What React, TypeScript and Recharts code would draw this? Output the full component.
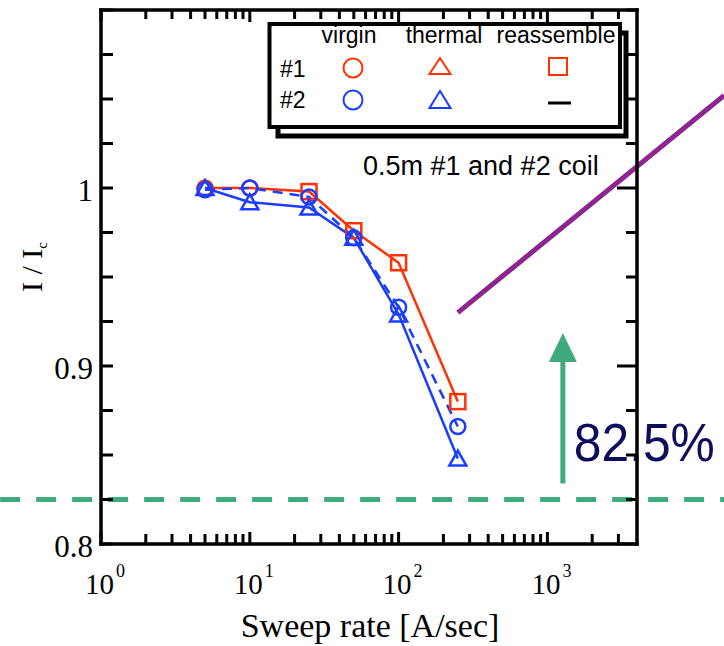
import React from 'react';
import { LineChart, Line, XAxis, YAxis, ReferenceLine } from 'recharts';

const sweepRates = [5, 10, 25, 50, 100, 250];
const coil1 = [1.0, 1.0, 0.998, 0.976, 0.958, 0.88];
const coil2Virgin = [0.999, 1.0, 0.995, 0.972, 0.933, 0.866];
const coil2Thermal = [1.0, 0.992, 0.989, 0.972, 0.929, 0.848];

const xTicks = [1, 2, 3, 4, 5, 6, 7, 8, 9, 10, 20, 30, 40, 50, 60, 70, 80, 90, 100, 200, 300, 400, 500, 600, 700, 800, 900, 1000, 2000, 3000];
const xLabelTicks = [1, 10, 100, 1000];
const xExponents = ['0', '1', '2', '3'];
const yTicks = [0.8, 0.825, 0.85, 0.875, 0.9, 0.925, 0.95, 0.975, 1.0, 1.025, 1.05, 1.075, 1.1];
const yLabelTicks = [0.8, 0.9, 1];
const yTickLabels = ['0.8', '0.9', '1'];

// annotations laid over the plot (data units)
const targetRatio = 0.825;
const targetLabel = '82.5%';
const trendLine = [{ x: 250, y: 0.93 }, { x: 15400, y: 1.052 }];
const arrowX = 1270;
const arrowFrom = 0.834;
const arrowTo = 0.9185;
const dashedSpan = [0.21, 15400];

const RED = '#ff3300';
const BLUE = '#1a3dff';
const GREEN = '#41a97e';
const SERIF = '"Liberation Serif", "Times New Roman", serif';
const SANS = '"Liberation Sans", Arial, sans-serif';

const data = sweepRates.map((x, i) => ({
    x,
    coil1: coil1[i],
    virgin2: coil2Virgin[i],
    thermal2: coil2Thermal[i],
}));

const labelIndex = (list: number[], v: number) => list.findIndex(t => Math.abs(t - v) < 1e-6);

const BottomTick = (props: any) => {
    const { x, y, payload } = props;
    const li = labelIndex(xLabelTicks, payload.value);
    const len = li >= 0 ? 12 : 10;
    return (
        <g>
            <line x1={x} x2={x} y1={y} y2={y - len} stroke="#000" strokeWidth={3} />
            {li >= 0 && (
                <text x={x - 16} y={y + 50} style={{ fontFamily: SERIF }} fontSize={29} fill="#000">
                    10<tspan dx={2} dy={-17} fontSize={18}>{xExponents[li]}</tspan>
                </text>
            )}
        </g>
    );
};

const TopTick = (props: any) => {
    const { x, y, payload } = props;
    const len = labelIndex(xLabelTicks, payload.value) >= 0 ? 12 : 9;
    return <line x1={x} x2={x} y1={y} y2={y + len} stroke="#000" strokeWidth={3} />;
};

const LeftTick = (props: any) => {
    const { x, y, payload } = props;
    const li = labelIndex(yLabelTicks, payload.value);
    return (
        <g>
            <line x1={x} x2={x + 12} y1={y} y2={y} stroke="#000" strokeWidth={3} />
            {li >= 0 && (
                <text x={x - 8} y={y + 13} textAnchor="end" style={{ fontFamily: SERIF }} fontSize={31} fill="#000">
                    {yTickLabels[li]}
                </text>
            )}
        </g>
    );
};

const RightTick = (props: any) => {
    const { x, y, payload } = props;
    const len = labelIndex(yLabelTicks, payload.value) >= 0 ? 20 : 11;
    return <line x1={x} x2={x - len} y1={y} y2={y} stroke="#000" strokeWidth={3} />;
};

const circleDot = (color: string) => (p: any) => (
    <circle key={`c-${p.index}`} cx={p.cx} cy={p.cy} r={7.5} fill="none" stroke={color} strokeWidth={2.5} />
);
const triangleDot = (color: string) => (p: any) => (
    <polygon
        key={`t-${p.index}`}
        points={`${p.cx},${p.cy - 8} ${p.cx - 8.5},${p.cy + 7} ${p.cx + 8.5},${p.cy + 7}`}
        fill="none"
        stroke={color}
        strokeWidth={2.5}
    />
);
// #1 coil: virgin circles at the slow rates, reassembled squares after
const coil1Dot = (p: any) =>
    p.payload.x < 20 ? (
        <circle key={`r-${p.index}`} cx={p.cx} cy={p.cy} r={7.5} fill="none" stroke={RED} strokeWidth={2.5} />
    ) : (
        <rect key={`r-${p.index}`} x={p.cx - 7.5} y={p.cy - 7.5} width={15} height={15} fill="none" stroke={RED} strokeWidth={2.5} />
    );

const ArrowShape = (p: any) => {
    const { x1, y1, x2, y2 } = p;
    return (
        <g>
            <line x1={x1} y1={y1} x2={x2} y2={y2 + 26} stroke={GREEN} strokeWidth={5} />
            <polygon points={`${x2},${y2} ${x2 - 14},${y2 + 29} ${x2 + 14},${y2 + 29}`} fill={GREEN} />
            <text
                x={x1 + 11}
                y={y1 - 22}
                style={{ fontFamily: SANS }}
                fontSize={54}
                fill="#0d0d5c"
                textLength={141}
                lengthAdjust="spacingAndGlyphs"
            >
                {targetLabel}
            </text>
        </g>
    );
};

function LegendBox() {
    return (
        <svg width={724} height={646} style={{ position: 'absolute', left: 0, top: 0, pointerEvents: 'none' }}>
            <rect x={278} y={33} width={348} height={103} fill="none" stroke="#000" strokeWidth={5} />
            <rect x={269.5} y={24} width={350.5} height={103} fill="#fff" stroke="#000" strokeWidth={4} />
            <g style={{ fontFamily: SANS }} fontSize={23} fill="#000">
                <text x={349} y={43} textAnchor="middle">virgin</text>
                <text x={444} y={43} textAnchor="middle">thermal</text>
                <text x={556} y={43} textAnchor="middle">reassemble</text>
                <text x={280} y={77}>#1</text>
                <text x={280} y={108}>#2</text>
            </g>
            <circle cx={353} cy={68} r={9.5} fill="none" stroke={RED} strokeWidth={2} />
            <polygon points="440,58 429.5,74 450.5,74" fill="none" stroke={RED} strokeWidth={2} />
            <rect x={549} y={58} width={18} height={17} fill="none" stroke={RED} strokeWidth={2} />
            <circle cx={353} cy={100} r={9.5} fill="none" stroke={BLUE} strokeWidth={2} />
            <polygon points="440,91 429.5,108 450.5,108" fill="none" stroke={BLUE} strokeWidth={2} />
            <line x1={548} x2={571} y1={103} y2={103} stroke="#000" strokeWidth={3} />
            <text x={363} y={175} style={{ fontFamily: SANS }} fontSize={27} fill="#000">0.5m #1 and #2 coil</text>
        </svg>
    );
}

export default function App() {
    const frame = { stroke: '#000', strokeWidth: 3.5, strokeLinecap: 'square' as const };
    return (
        <div style={{ position: 'absolute', left: 0, top: 0, width: 724, height: 646, background: '#fff' }}>
            <LineChart width={724} height={646} data={data} margin={{ top: 9, right: 86, bottom: 101, left: 100 }}>
                <XAxis
                    type="number"
                    dataKey="x"
                    scale="log"
                    domain={[1, 4000]}
                    allowDataOverflow
                    ticks={xTicks}
                    interval={0}
                    height={1}
                    tickSize={0}
                    tickMargin={0}
                    tickLine={false}
                    axisLine={frame}
                    tick={<BottomTick />}
                />
                <XAxis
                    xAxisId="top"
                    orientation="top"
                    type="number"
                    dataKey="x"
                    scale="log"
                    domain={[1, 4000]}
                    allowDataOverflow
                    ticks={xTicks}
                    interval={0}
                    height={1}
                    tickSize={0}
                    tickMargin={0}
                    tickLine={false}
                    axisLine={frame}
                    tick={<TopTick />}
                />
                <YAxis
                    type="number"
                    domain={[0.8, 1.1]}
                    allowDataOverflow
                    ticks={yTicks}
                    interval={0}
                    width={1}
                    tickSize={0}
                    tickMargin={0}
                    tickLine={false}
                    axisLine={frame}
                    tick={<LeftTick />}
                />
                <YAxis
                    yAxisId="right"
                    orientation="right"
                    type="number"
                    domain={[0.8, 1.1]}
                    allowDataOverflow
                    ticks={yTicks}
                    interval={0}
                    width={1}
                    tickSize={0}
                    tickMargin={0}
                    tickLine={false}
                    axisLine={frame}
                    tick={<RightTick />}
                />
                <Line
                    dataKey="coil1"
                    type="linear"
                    stroke={RED}
                    strokeWidth={2.5}
                    dot={coil1Dot}
                    activeDot={false}
                    isAnimationActive={false}
                />
                <Line
                    dataKey="thermal2"
                    type="linear"
                    stroke={BLUE}
                    strokeWidth={2.5}
                    dot={triangleDot(BLUE)}
                    activeDot={false}
                    isAnimationActive={false}
                />
                <Line
                    dataKey="virgin2"
                    type="linear"
                    stroke={BLUE}
                    strokeWidth={2.5}
                    strokeDasharray="10 7"
                    dot={circleDot(BLUE)}
                    activeDot={false}
                    isAnimationActive={false}
                />
                <ReferenceLine
                    segment={[{ x: dashedSpan[0], y: targetRatio }, { x: dashedSpan[1], y: targetRatio }]}
                    stroke={GREEN}
                    strokeWidth={5}
                    strokeDasharray="20 16"
                    ifOverflow="visible"
                />
                <ReferenceLine
                    segment={trendLine}
                    stroke="#8b2590"
                    strokeWidth={5}
                    ifOverflow="visible"
                />
                <ReferenceLine
                    segment={[{ x: arrowX, y: arrowFrom }, { x: arrowX, y: arrowTo }]}
                    ifOverflow="visible"
                    shape={ArrowShape}
                />
            </LineChart>
            <div style={{ position: 'absolute', left: 0, top: 0 }}>
                <LegendBox />
            </div>
            <svg width={724} height={646} style={{ position: 'absolute', left: 0, top: 0, pointerEvents: 'none' }}>
                <text transform="translate(42, 267) rotate(-90)" textAnchor="middle" style={{ fontFamily: SERIF }} fontSize={30} fill="#000">
                    I / I<tspan fontSize={15} dy={5}>c</tspan>
                </text>
                <text x={370} y={637} textAnchor="middle" style={{ fontFamily: SERIF }} fontSize={34} fill="#000">
                    Sweep rate [A/sec]
                </text>
            </svg>
        </div>
    );
}
